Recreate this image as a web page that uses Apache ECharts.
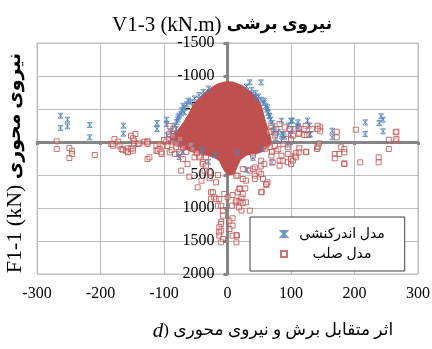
<!DOCTYPE html>
<html><head><meta charset="utf-8">
<script src="https://cdn.jsdelivr.net/npm/echarts@6/dist/echarts.min.js"></script>
<style>html,body{margin:0;padding:0;background:#fff}#c{width:432px;height:349px}</style>
</head><body><div id="c"></div>
<script>
// ---- data ----
var xTicks = [-300, -200, -100, 0, 100, 200, 300];
var yTicks = [-1500, -1000, -500, 0, 500, 1000, 1500, 2000];
var seriesNames = ['مدل اندرکنشی', 'مدل صلب'];

// interaction model (blue asterisks)
var interactionModel = [
  [-263,-398],[-252,-338],[-263,-212],[-252,-238],[-217,-258],[-217,-71],[-164,-247],[-164,-126],
  [-111,-288],[-111,-197],[-96,-338],[-96,-273],
  [-62,-626],[-70,-550],[-68,-450],[-78,-374],[-81,-197],[-76,30],[-78,182],[-76,227],
  [35,-904],[53,-904],
  [45,-677],[58,-626],[63,-525],[66,-398],[85,-323],[100,-323],[111,-247],[111,-197],[126,-323],[129,-247],[129,-106],
  [165,-171],[165,-71],[217,-298],[217,-121],[242,-389],[245,-338],[239,-288],[245,-162],
  [102,-323],[102,-197],[111,-298],[111,-222],[130,-121],[96,-247],[100,-106],[88,-106],
  [30,-840],[38,-790],[44,-740],[49,-690],[53,-640],[57,-590],[60,-540],[62,-490],[64,-440],[66,-390],[68,-340],
  [70,-290],[72,-240],[75,-190],[80,-150],[86,-120],[90,-80],[76,-60],[72,-150],
  [-30,-810],[-38,-760],[-45,-710],[-52,-660],[-58,-610],[-64,-570],[-68,-520],[-72,-480],[-73,-430],[-76,-400],
  [-78,-340],[-80,-300],[-83,-250],[-86,-200],[-90,-150],[-95,-100],[-88,-50],
  [-40,120],[-20,200],[15,160],[40,240],[70,310],[55,110],[85,-20],[95,40],[-55,60],[-70,150],[30,420],[-30,300]
];

// rigid model (red squares)
var rigidModel = [
  [-269,-11],[-269,106],[-249,91],[-245,132],[-245,182],[-249,242],[-209,197],
  [-183,30],[-178,-45],[-181,30],[-172,-5],[-180,56],[-170,56],[-167,106],[-165,117],[-160,132],[-157,95],[-157,147],
  [-157,156],[-152,-95],[-152,106],[-145,-121],[-149,-56],[-147,-20],[-147,30],[-141,30],[-139,20],[-149,95],[-149,132],
  [-131,-5],[-126,-11],[-126,30],[-126,5],[-126,258],[-112,56],[-112,132],[-110,132],[-107,30],[-107,106],[-104,182],
  [-104,156],[-102,56],[-97,5],[-123,232],[-91,156],[-86,5],[-83,182],[-81,80],[-76,156],[-70,258],[-73,434],[-63,333],
  [-60,525],[-52,232],[-49,156],[-44,207],[-44,232],[-41,586],[-47,687],[-39,308],[-39,333],[-36,434],[-34,359],[-34,232],
  [-28,459],[-28,550],[-26,762],[-23,762],[-26,864],[-21,838],[-18,864],[-18,611],[-15,500],[-15,965],[-13,864],[-10,965],
  [-7,1040],[-7,1117],[-10,1207],[-10,1242],[-13,1293],[-10,1343],[-13,1368],[-13,1419],[-7,1470],[-10,1520],[-5,788],[0,838],
  [3,1192],[8,1156],[8,1268],[3,1318],[8,1419],[15,1419],[14,1409],[14,1520],[13,914],[19,889],[29,914],[35,1040],[22,1040],
  [18,990],[7,965],[19,914],[24,924],[22,838],[14,889],[8,803],[16,762],[19,702],[28,702],[19,712],[24,788],[29,586],[24,560],
  [16,510],[14,510],[24,409],[35,434],[40,409],[50,459],[43,510],[53,485],[56,560],[43,560],[61,651],[63,611],[61,636],[54,753],
  [53,762],[53,283],[53,359],[43,384],[58,333],[71,308],[82,359],[82,283],[69,207],[85,207],[95,182],[77,132],[66,80],[40,207],
  [87,283],[95,308],[100,258],[100,333],[103,283],[106,207],[108,167],[108,232],[113,95],[113,156],[124,147],[124,156],[141,106],
  [142,65],[142,80],[144,20],[169,182],[169,247],[176,182],[179,80],[184,106],[184,156],[184,323],[184,333],[209,308],[238,232],
  [238,308],[254,106],[254,-35],[265,-20],[265,-147],[266,-45],[266,-156],[202,-186],[172,-156],[172,-71],[146,-222],[146,-162],
  [142,-247],[142,-197],[69,-247],[77,-197],[82,-273],[90,-222],[98,-197],[92,-121],[103,-95],[113,-140],[123,-247],[125,-106],
  [121,-197],[121,-106],[133,-197],[112,-207],[112,-121],
  [-95,60],[-88,120],[-80,20],[-70,90],[-65,150],[-58,40],[-55,110],[-48,170],[-100,-30],[-92,-120],[-85,-200],[60,100],
  [70,150],[75,60],[80,110],[88,30],[95,80],[100,-40],[65,-150],[75,-100],[-91,-240],[-86,-90],[-75,-45]
];

// outline of the dense (solid) cloud of rigid-model points
var rigidCoreOutline = [
  [-2,-904],[8,-900],[14,-880],[22,-850],[29,-805],[37,-750],[43,-700],[48,-640],[51,-576],[54,-500],[56,-424],[58,-340],
  [61,-250],[64,-170],[66,-95],[68,-20],[66,56],[56,130],[45,170],[30,190],[20,260],[14,380],[10,480],[0,490],[-6,400],
  [-12,280],[-22,220],[-40,180],[-55,140],[-70,90],[-80,40],[-88,-10],[-90,-60],[-84,-120],[-78,-175],[-72,-240],[-68,-300],
  [-63,-380],[-58,-460],[-54,-540],[-48,-620],[-42,-680],[-34,-750],[-26,-810],[-16,-870],[-8,-895]
];

var BLUE = '#4F81BD', RED = '#C0504D', AXIS = '#868686';
var SERIF = "'Liberation Serif','Times New Roman','DejaVu Sans',serif";
var FA = "'Liberation Serif','DejaVu Sans',sans-serif";
function plain(v) { return String(v); }
var GRID_LEFT = 37;

var chart = echarts.init(document.getElementById('c'), null, {renderer: 'canvas'});
chart.setOption({
  animation: false,
  backgroundColor: '#fff',
  grid: {left: GRID_LEFT, right: 14, top: 43, bottom: 75, containLabel: false, outerBoundsMode: 'none',
    show: true, borderColor: '#BFBFBF', borderWidth: 1},
  xAxis: [{
    type: 'value', min: xTicks[0], max: xTicks[xTicks.length - 1], interval: 100, position: 'bottom',
    axisLine: {show: true, onZero: true, lineStyle: {color: AXIS, width: 3}},
    axisTick: {show: true, length: 3, lineStyle: {color: AXIS, width: 3}},
    axisLabel: {show: false},
    splitLine: {show: true, lineStyle: {color: '#BFBFBF', width: 1}}
  }, {
    type: 'value', min: xTicks[0], max: xTicks[xTicks.length - 1], interval: 100, position: 'bottom',
    axisLine: {show: false, onZero: false}, axisTick: {show: false}, splitLine: {show: false},
    axisLabel: {show: true, margin: 12, color: '#000', fontSize: 16, fontFamily: SERIF, formatter: plain}
  }],
  yAxis: {
    type: 'value', inverse: true, min: yTicks[0], max: yTicks[yTicks.length - 1], interval: 500, position: 'left',
    axisLine: {show: true, onZero: false, lineStyle: {color: AXIS, width: 3}},
    axisTick: {show: true, length: 4, lineStyle: {color: AXIS, width: 3}},
    axisLabel: {margin: 13, color: '#000', fontSize: 16, fontFamily: SERIF, formatter: plain},
    splitLine: {show: true, lineStyle: {color: '#BFBFBF', width: 1}}
  },
  legend: {
    data: seriesNames, orient: 'vertical', left: 250, top: 217, selectedMode: false,
    padding: [10, 20, 10, 30], itemGap: 6, itemWidth: 6, itemHeight: 6,
    backgroundColor: '#fff', borderColor: '#404040', borderWidth: 1,
    formatter: function (n) { return '{t|' + n + '}'; },
    textStyle: {color: '#000', fontSize: 14, fontFamily: FA,
      rich: {t: {width: 100, align: 'center', fontSize: 14, fontFamily: FA, color: '#000', height: 16}}}
  },
  graphic: [
    {type: 'text', x: 222, y: 25, style: {
      text: '{a|V1-3 (kN.m) }{b|نیروی برشی}', textAlign: 'center', textVerticalAlign: 'middle',
      rich: {a: {fontSize: 21, fontFamily: SERIF, fill: '#000'}, b: {fontSize: 17, fontWeight: 'bold', fontFamily: FA, fill: '#000'}}}},
    {type: 'text', x: 15, y: 163, rotation: Math.PI / 2, style: {
      text: '{a|F1-1 (kN) }{b|نیروی محوری}', textAlign: 'center', textVerticalAlign: 'middle',
      rich: {a: {fontSize: 22, fontFamily: SERIF, fill: '#000'}, b: {fontSize: 19, fontWeight: 'bold', fontFamily: FA, fill: '#000'}}}},
    {type: 'text', x: 273, y: 331, style: {
      text: '{a|d}{b|) اثر متقابل برش و نیروی محوری}', textAlign: 'center', textVerticalAlign: 'middle',
      rich: {a: {fontSize: 21, fontStyle: 'italic', fontFamily: SERIF, fill: '#000'}, b: {fontSize: 17, fontFamily: FA, fill: '#000'}}}}
  ],
  series: [{
    name: seriesNames[0], type: 'scatter', xAxisIndex: 0, data: interactionModel,
    symbol: 'path://M0,0L10,0L0,10L10,10ZM5,0L5,10', symbolSize: 5,
    itemStyle: {color: 'rgba(255,255,255,0)', borderColor: BLUE, borderWidth: 1}
  }, {
    name: 'core', type: 'custom', xAxisIndex: 0, silent: true, data: [[0, 0]],
    renderItem: function (params, api) {
      if (params.dataIndex !== 0) return;
      return {type: 'polygon', shape: {points: rigidCoreOutline.map(function (p) { return api.coord(p); })},
        style: {fill: RED, stroke: RED, lineWidth: 2}};
    }
  }, {
    name: seriesNames[1], type: 'scatter', xAxisIndex: 0, data: rigidModel,
    symbol: 'rect', symbolSize: 5,
    itemStyle: {color: 'rgba(255,255,255,0.3)', borderColor: RED, borderWidth: 1}
  }]
});
// place the vertical axis line where x = 0 (axis crossing), using the chart's own scale
var zeroPx = chart.convertToPixel({xAxisIndex: 0}, 0);
chart.setOption({yAxis: {offset: -(zeroPx - GRID_LEFT)}});
</script></body></html>
